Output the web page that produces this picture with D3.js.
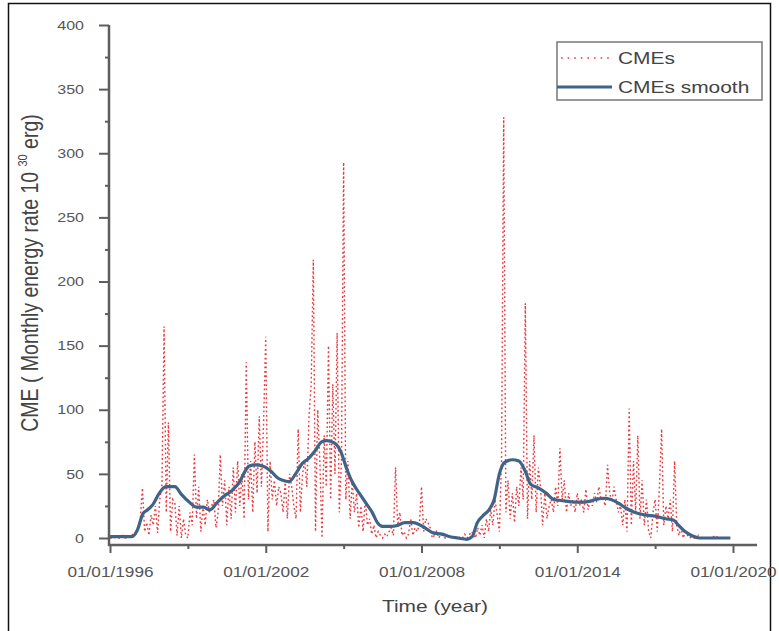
<!DOCTYPE html>
<html>
<head>
	<title>CME energy rate</title>
	<style>
	body {
		margin: 0;
		background: #fff;
		font-family: "Liberation Sans", Arial, sans-serif;
	}
	.axis text { fill: #555; }
	</style>
</head>
<body>
	<div id="vis"></div>

	<script src="https://d3js.org/d3.v7.min.js"></script>
	<script>
		// monthly CME energy rate, Jan 1996 onwards (one row per year)
		var cmeStart = 1996;
		var cmeValues = [
			0, 0, 0, 1, 0, 0, 2, 0, 0, 1, 3, 2,            // 1996
			3, 8, 15, 39, 5, 12, 2, 18, 10, 25, 4, 30,     // 1997
			40, 165, 20, 90, 5, 30, 27, 2, 25, 0, 15, 2,   // 1998
			0, 20, 10, 65, 15, 40, 5, 25, 10, 30, 20, 25,  // 1999
			30, 8, 20, 65, 25, 45, 10, 40, 15, 55, 20, 60, // 2000
			25, 50, 15, 137, 30, 60, 20, 75, 35, 95, 40, 90, // 2001
			157, 5, 60, 30, 45, 25, 40, 35, 20, 45, 15, 50, // 2002
			40, 25, 15, 85, 20, 50, 60, 40, 95, 120, 217, 5, // 2003
			100, 60, 0, 80, 40, 150, 30, 120, 50, 160, 20, 60, // 2004
			293, 30, 60, 15, 45, 20, 35, 8, 25, 5, 30, 10, // 2005
			15, 3, 10, 0, 5, 2, 0, 3, 1, 5, 8, 2,          // 2006
			55, 10, 20, 2, 5, 0, 3, 15, 2, 8, 5, 10,       // 2007
			40, 5, 15, 12, 8, 0, 2, 5, 0, 3, 1, 0,         // 2008
			0, 1, 0, 2, 0, 0, 1, 0, 3, 0, 2, 5,            // 2009
			3, 0, 8, 2, 10, 0, 15, 5, 22, 10, 30, 18,      // 2010
			5, 60, 328, 20, 45, 15, 35, 12, 40, 25, 55, 30, // 2011
			183, 15, 60, 30, 80, 20, 55, 40, 10, 35, 15, 25, // 2012
			30, 20, 40, 25, 70, 30, 45, 20, 35, 25, 30, 20, // 2013
			35, 25, 30, 20, 38, 22, 30, 25, 35, 28, 40, 30, // 2014
			30, 25, 57, 35, 28, 40, 30, 20, 25, 10, 30, 5, // 2015
			101, 10, 60, 20, 80, 15, 45, 10, 30, 5, 0, 20, // 2016
			30, 5, 40, 85, 10, 25, 15, 30, 5, 60, 10, 2,   // 2017
			8, 0, 5, 2, 0, 1, 0, 0, 2, 0, 0, 0,            // 2018
			0, 0, 0, 1, 2, 0, 0, 0, 0, 0, 0                // 2019
		];

		// smoothed curve
		var smoothYears = [1996.0, 1996.5, 1996.85, 1997.05, 1997.27, 1997.45, 1997.65, 1997.9, 1998.15, 1998.5,
			1998.75, 1999.05, 1999.35, 1999.6, 1999.85, 2000.1, 2000.35, 2000.75, 2001.0, 2001.2,
			2001.35, 2001.6, 2001.9, 2002.2, 2002.45, 2002.65, 2002.9, 2003.15, 2003.4, 2003.65,
			2003.9, 2004.15, 2004.35, 2004.65, 2004.9, 2005.1, 2005.3, 2005.5, 2005.7, 2005.9,
			2006.1, 2006.3, 2006.5, 2006.8, 2007.1, 2007.35, 2007.7, 2007.95, 2008.2, 2008.45,
			2008.8, 2009.1, 2009.4, 2009.75, 2009.95, 2010.15, 2010.35, 2010.6, 2010.8, 2011.0,
			2011.2, 2011.5, 2011.75, 2012.0, 2012.2, 2012.5, 2012.8, 2013.1, 2013.5, 2013.9,
			2014.3, 2014.7, 2015.0, 2015.3, 2015.6, 2015.9, 2016.2, 2016.6, 2017.0, 2017.4,
			2017.7, 2017.9, 2018.15, 2018.4, 2018.7, 2019.0, 2019.4, 2019.9];
		var smoothValues = [1, 1, 1, 6, 19, 22, 26, 35, 40, 40,
			34, 28, 24, 24, 22, 27, 32, 38, 44, 52,
			56, 57, 56, 52, 47, 45, 44, 50, 58, 62,
			68, 75, 76, 74, 67, 55, 45, 38, 32, 26,
			20, 12, 9, 9, 10, 12, 12, 10, 7, 4,
			3, 1, 0, -1, 1, 12, 17, 22, 30, 50,
			59, 61, 60, 52, 42, 39, 35, 30, 29, 28,
			28, 30, 31, 30, 27, 23, 20, 18, 17, 15,
			14, 10, 5, 2, 0, 0, 0, 0];

		var yTicks = [0, 50, 100, 150, 200, 250, 300, 350, 400];
		var yMinor = [25, 75, 125, 175, 225, 275, 325, 375];
		var xTicks = [1996, 2002, 2008, 2014, 2020];
		var xMinor = [1999, 2005, 2011, 2017];
		var seriesNames = ["CMEs", "CMEs smooth"];

		var W = 779, H = 631;
		var xAxisY = 545, yAxisX = 109;
		var red = "#ea3a40", blue = "#3f6488", axisCol = "#5e5e5e";
		var stretchK = 1.23; // the picture is slightly wider than its text

		var svg = d3.select("#vis").append("svg")
			.attr("width", W)
			.attr("height", H);

		function stretch(sel) {
			sel.each(function() {
				var l = this.getComputedTextLength();
				d3.select(this).attr("textLength", l * stretchK)
					.attr("lengthAdjust", "spacingAndGlyphs");
			});
		}

		// outer frame
		svg.append("rect")
			.attr("x", 8.5).attr("y", 3.5)
			.attr("width", 762).attr("height", 640)
			.attr("fill", "none")
			.attr("stroke", "#111")
			.attr("stroke-width", 1.5);

		var x = d3.scaleLinear().domain([1996, 2020]).range([110, 733]);
		var y = d3.scaleLinear().domain([0, 400]).range([538, 25]);

		var cme = cmeValues.map(function(v, i) { return {t: cmeStart + i / 12, v: v}; });
		var smooth = smoothYears.map(function(t, i) { return {t: t, v: smoothValues[i]}; });

		var line = d3.line()
			.x(function(d) { return x(d.t); })
			.y(function(d) { return y(d.v); });

		// data lines
		svg.append("path")
			.datum(cme)
			.attr("d", line)
			.attr("fill", "none")
			.attr("stroke", red)
			.attr("stroke-width", 1.4)
			.attr("stroke-dasharray", "1.8,2.6");

		svg.append("path")
			.datum(smooth)
			.attr("d", line.curve(d3.curveMonotoneX))
			.attr("fill", "none")
			.attr("stroke", blue)
			.attr("stroke-width", 3.2)
			.attr("stroke-linejoin", "round");

		// y axis
		var yAxis = svg.append("g")
			.attr("class", "axis")
			.attr("transform", "translate(" + yAxisX + ",0)")
			.call(d3.axisLeft(y).tickValues(yTicks).tickSize(10).tickPadding(15));
		yAxis.selectAll("text").style("font-size", "13px").call(stretch);

		svg.append("g")
			.attr("class", "axis")
			.attr("transform", "translate(" + yAxisX + ",0)")
			.call(d3.axisLeft(y).tickValues(yMinor).tickSize(4).tickFormat(""));

		// x axis
		var xAxis = svg.append("g")
			.attr("class", "axis")
			.attr("transform", "translate(0," + xAxisY + ")")
			.call(d3.axisBottom(x).tickValues(xTicks).tickSize(8).tickPadding(14)
				.tickFormat(function(d) { return "01/01/" + d; }));
		xAxis.selectAll("text").style("font-size", "14px").call(stretch);

		svg.append("g")
			.attr("class", "axis")
			.attr("transform", "translate(0," + xAxisY + ")")
			.call(d3.axisBottom(x).tickValues(xMinor).tickSize(4).tickFormat(""));

		svg.selectAll(".axis .domain").remove();
		svg.selectAll(".axis line").attr("stroke", axisCol).attr("stroke-width", 2);

		svg.append("line")
			.attr("x1", yAxisX).attr("x2", yAxisX)
			.attr("y1", y(400)).attr("y2", xAxisY + 1)
			.attr("stroke", axisCol).attr("stroke-width", 2.5);
		svg.append("line")
			.attr("x1", yAxisX - 1).attr("x2", 757)
			.attr("y1", xAxisY).attr("y2", xAxisY)
			.attr("stroke", axisCol).attr("stroke-width", 2.5);

		// axis titles
		var xt = svg.append("text")
			.attr("x", 435).attr("y", 612)
			.attr("text-anchor", "middle")
			.style("font-size", "17px")
			.style("fill", "#444")
			.text("Time (year)");
		stretch(xt);

		var yt = svg.append("text")
			.attr("transform", "translate(38,273) scale(1.2,1) rotate(-90)")
			.attr("text-anchor", "middle")
			.style("font-size", "19.5px")
			.style("fill", "#444");
		yt.append("tspan").text("CME ( Monthly energy rate 10 ");
		yt.append("tspan").attr("dy", -9).style("font-size", "11px").text("30");
		yt.append("tspan").attr("dy", 9).text(" erg)");

		// legend
		var lg = svg.append("g");
		lg.append("rect")
			.attr("x", 557).attr("y", 42)
			.attr("width", 205).attr("height", 58)
			.attr("fill", "#fff")
			.attr("stroke", "#777")
			.attr("stroke-width", 1.5);
		lg.append("line")
			.attr("x1", 561).attr("x2", 612)
			.attr("y1", 58).attr("y2", 58)
			.attr("stroke", red).attr("stroke-width", 1.5)
			.attr("stroke-dasharray", "1.6,5");
		lg.append("line")
			.attr("x1", 557).attr("x2", 612)
			.attr("y1", 87).attr("y2", 87)
			.attr("stroke", blue).attr("stroke-width", 3);
		lg.selectAll(".lbl")
			.data(seriesNames)
		  .enter().append("text")
			.attr("x", 618)
			.attr("y", function(d, i) { return 64 + i * 29; })
			.style("font-size", "17px")
			.style("fill", "#444")
			.text(function(d) { return d; })
			.call(stretch);
	</script>
</body>
</html>
